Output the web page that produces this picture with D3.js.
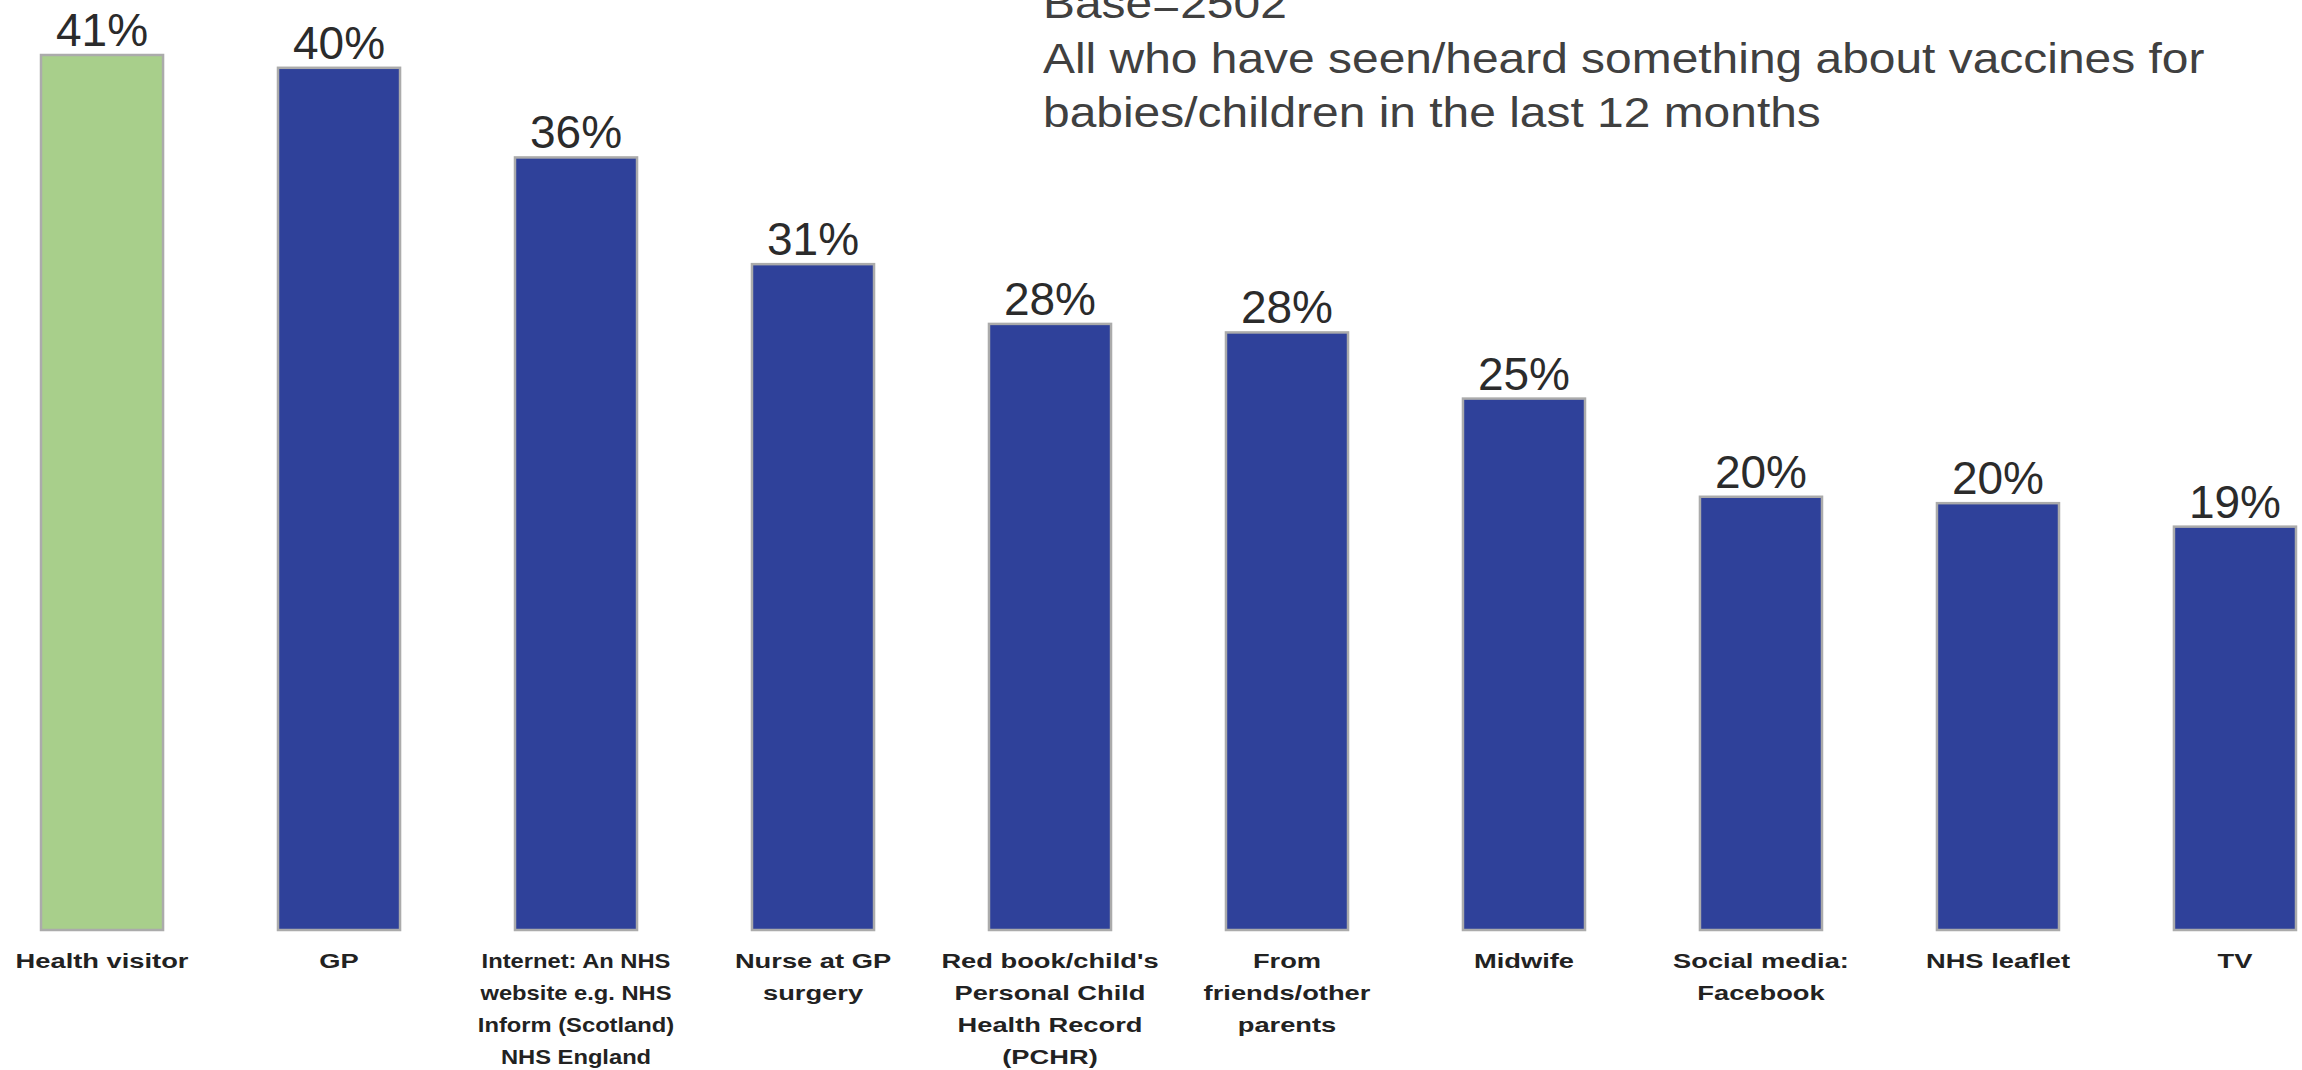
<!DOCTYPE html>
<head>
<meta charset="utf-8">
<title>Sources of vaccine information</title>
<style>
  body { margin: 0; background: #fff; }
  svg { display: block; font-family: "Liberation Sans", Arial, sans-serif; }
</style>
</head>

<div id="chart"></div>

<script src="https://cdn.jsdelivr.net/npm/d3@7/dist/d3.min.js"></script>
<script>
// categories (line breaks as in the original)
let categories = [
	["Health visitor"],
	["GP"],
	["Internet: An NHS", "website e.g. NHS", "Inform (Scotland)", "NHS England"],
	["Nurse at GP", "surgery"],
	["Red book/child's", "Personal Child", "Health Record", "(PCHR)"],
	["From", "friends/other", "parents"],
	["Midwife"],
	["Social media:", "Facebook"],
	["NHS leaflet"],
	["TV"]
];
let values = [41, 40.4, 36.2, 31.2, 28.4, 28.0, 24.9, 20.3, 20.0, 18.9];
let valueLabels = ["41%", "40%", "36%", "31%", "28%", "28%", "25%", "20%", "20%", "19%"];
let highlight = [true, false, false, false, false, false, false, false, false, false];
let titleLines = ["Base=2502", "All who have seen/heard something about vaccines for", "babies/children in the last 12 months"];

const W = 2302, H = 1070;
const BASE_Y = 930, TOP_Y = 55;

drawChart();


function drawChart() {

	const svg = d3.select("#chart")
		.append("svg")
		.attr("width", W)
		.attr("height", H);

	const ids = d3.range(values.length);

	const x = d3.scaleBand()
		.domain(ids)
		.range([41, 2296])
		.paddingInner(0.485)
		.paddingOuter(0);

	const y = d3.scaleLinear()
		.domain([0, d3.max(values)])
		.range([BASE_Y, TOP_Y]);

	// bars
	svg.append("g")
		.selectAll("rect")
		.data(ids)
		.join("rect")
		.attr("x", i => x(i))
		.attr("y", i => y(values[i]))
		.attr("width", x.bandwidth())
		.attr("height", i => y(0) - y(values[i]))
		.attr("fill", i => highlight[i] ? "#a8cf8b" : "#2f419a")
		.attr("stroke", "#ababab")
		.attr("stroke-width", 2.5);

	// value labels
	svg.append("g")
		.selectAll("text")
		.data(ids)
		.join("text")
		.attr("x", i => x(i) + x.bandwidth() / 2)
		.attr("y", i => y(values[i]) - 9)
		.attr("text-anchor", "middle")
		.attr("font-size", 46)
		.attr("fill", "#2b2b2b")
		.text(i => valueLabels[i]);

	// category labels under the bars (the original text is drawn wide;
	// the long internet label was squeezed to fit its slot)
	const cat = svg.append("g")
		.selectAll("g")
		.data(ids)
		.join("g")
		.attr("transform", i => "translate(" + (x(i) + x.bandwidth() / 2) + "," + 968 + ") scale(" + (i === 2 ? 1.13 : 1.3) + ",1)");

	cat.selectAll("text")
		.data(i => categories[i])
		.join("text")
		.attr("y", (d, j) => j * 32)
		.attr("text-anchor", "middle")
		.attr("font-size", 21)
		.attr("font-weight", "bold")
		.attr("fill", "#222")
		.text(d => d);

	// base note, top right (stretched like the original)
	svg.append("g")
		.attr("transform", "translate(1043,0) scale(1.115,1)")
		.selectAll("text")
		.data(titleLines)
		.join("text")
		.attr("x", 0)
		.attr("y", (d, j) => [18, 73, 127][j])
		.attr("font-size", 43)
		.attr("fill", "#404040")
		.text(d => d);

} // @end drawChart()
</script>
